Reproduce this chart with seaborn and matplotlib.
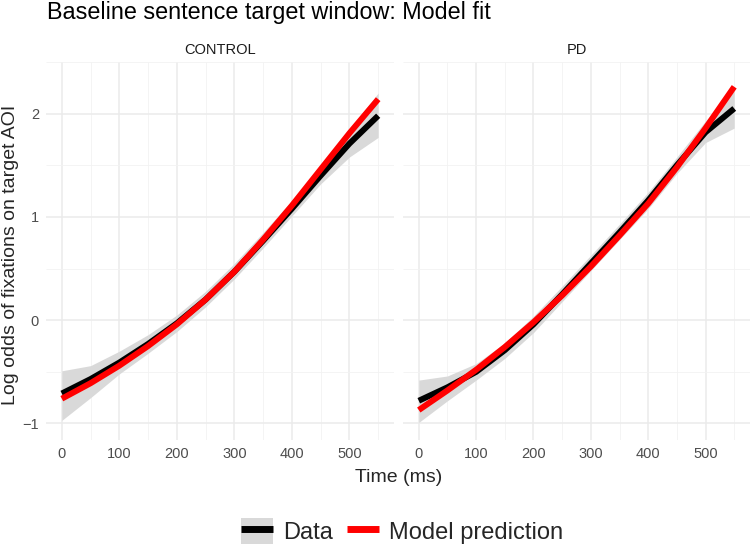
import pandas as pd
import matplotlib
matplotlib.use("Agg")
import matplotlib.pyplot as plt
import seaborn as sns
from matplotlib.lines import Line2D
from matplotlib.patches import Patch
from matplotlib.ticker import MultipleLocator

# -----------------------------
# Values
# -----------------------------
time_ms = [0, 50, 100, 150, 200, 250, 300, 350, 400, 450, 500, 550]
groups = ["CONTROL", "PD"]

control_data = [-0.71, -0.57, -0.41, -0.23, -0.03, 0.20, 0.47, 0.77, 1.08, 1.40, 1.71, 1.98]
control_model = [-0.76, -0.61, -0.44, -0.25, -0.04, 0.20, 0.47, 0.78, 1.11, 1.46, 1.81, 2.14]
control_lower = [-0.97, -0.75, -0.52, -0.32, -0.11, 0.13, 0.40, 0.70, 1.01, 1.32, 1.58, 1.77]
control_upper = [-0.49, -0.44, -0.30, -0.14, 0.05, 0.28, 0.55, 0.85, 1.16, 1.49, 1.85, 2.20]

pd_data = [-0.78, -0.65, -0.50, -0.29, -0.04, 0.25, 0.55, 0.85, 1.16, 1.50, 1.82, 2.05]
pd_model = [-0.87, -0.68, -0.48, -0.26, -0.02, 0.24, 0.52, 0.82, 1.13, 1.48, 1.86, 2.26]
pd_lower = [-0.99, -0.78, -0.58, -0.37, -0.12, 0.18, 0.48, 0.78, 1.08, 1.42, 1.72, 1.86]
pd_upper = [-0.58, -0.54, -0.42, -0.22, 0.04, 0.33, 0.63, 0.93, 1.24, 1.58, 1.93, 2.22]

series_names = ["Data", "Model prediction"]
line_colors = {"Data": "black", "Model prediction": "red"}
ribbon_color = "#d9d9d9"

# long table for seaborn
rows = []
for g, d, m in [("CONTROL", control_data, control_model), ("PD", pd_data, pd_model)]:
    for t, a, b in zip(time_ms, d, m):
        rows.append({"group": g, "time": t, "source": "Data", "value": a})
        rows.append({"group": g, "time": t, "source": "Model prediction", "value": b})
df = pd.DataFrame(rows)
ribbons = {"CONTROL": (control_lower, control_upper), "PD": (pd_lower, pd_upper)}

# -----------------------------
# Style
# -----------------------------
sns.set_theme(style="whitegrid")
plt.rcParams["font.family"] = ["Liberation Sans", "DejaVu Sans"]
plt.rcParams["lines.solid_capstyle"] = "butt"

fig = plt.figure(figsize=(7.5, 5.48), dpi=100)
W, H = 750, 548
panels = [(46, 394), (403, 750)]
top_px, bot_px = 62, 440

for g, (l, r) in zip(groups, panels):
    ax = fig.add_axes([l / W, 1 - bot_px / H, (r - l) / W, (bot_px - top_px) / H])
    lo, hi = ribbons[g]
    ax.fill_between(time_ms, lo, hi, color=ribbon_color, lw=0, zorder=1)
    sns.lineplot(data=df[df["group"] == g], x="time", y="value", hue="source",
                 hue_order=series_names, palette=line_colors, linewidth=4.3,
                 solid_capstyle="butt", legend=False, ax=ax, zorder=2)
    ax.set_xlim(-27.5, 577.5)
    ax.set_ylim(-1.16, 2.50)
    ax.xaxis.set_major_locator(MultipleLocator(100))
    ax.xaxis.set_minor_locator(MultipleLocator(50))
    ax.yaxis.set_major_locator(MultipleLocator(1))
    ax.yaxis.set_minor_locator(MultipleLocator(0.5))
    ax.grid(which="major", color="#ebebeb", linewidth=1.1)
    ax.grid(which="minor", color="#f2f2f2", linewidth=0.6)
    ax.set_axisbelow(True)
    for s in ax.spines.values():
        s.set_visible(False)
    ax.set_facecolor("white")
    ax.tick_params(length=0, labelsize=10.5, labelcolor="#4d4d4d", pad=5)
    ax.set_xlabel("")
    ax.set_ylabel("")
    ax.set_title(g, fontsize=10.5, color="#1a1a1a", pad=6)
    if g == "PD":
        ax.set_yticklabels([])

fig.text(47 / W, 1 - 12 / H, "Baseline sentence target window: Model fit",
         fontsize=16.8, ha="left", va="center", color="black")
fig.text(399 / W, 1 - 477 / H, "Time (ms)", fontsize=14, ha="center", va="center")
fig.text(11 / W, 1 - 255 / H, "Log odds of fixations on target AOI", fontsize=14,
         rotation=90, ha="center", va="center")

handles = [(Patch(facecolor=ribbon_color, edgecolor="none"),
            Line2D([], [], color="black", lw=5, solid_capstyle="butt")),
           Line2D([], [], color="red", lw=5, solid_capstyle="butt")]
fig.legend(handles, series_names, loc="center", bbox_to_anchor=(402 / W, 1 - 531 / H),
           ncol=2, frameon=False, fontsize=17, handlelength=1.35, handleheight=1.3,
           handletextpad=0.42, columnspacing=0.6)

fig.savefig("out.png", dpi=100)
